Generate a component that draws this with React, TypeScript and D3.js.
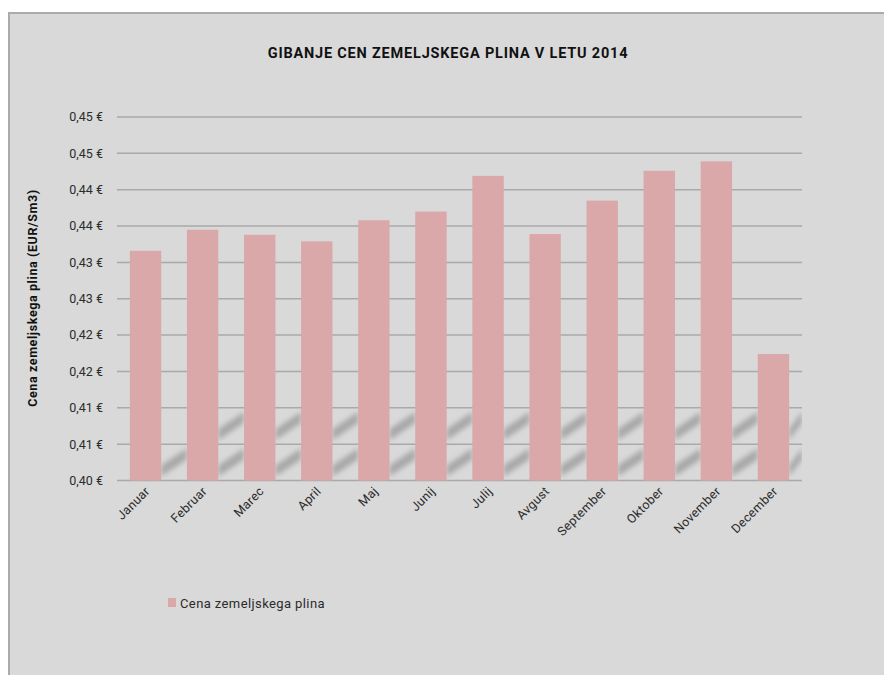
import React from "react";
import * as d3 from "d3";

const months = ["Januar", "Februar", "Marec", "April", "Maj", "Junij", "Julij", "Avgust", "September", "Oktober", "November", "December"];
const prices = [0.4316, 0.4345, 0.4338, 0.4329, 0.4358, 0.437, 0.4419, 0.4339, 0.4385, 0.4426, 0.4439, 0.4174];
const yTickValues = [0.4, 0.405, 0.41, 0.415, 0.42, 0.425, 0.43, 0.435, 0.44, 0.445, 0.45];
const yTickLabels = ["0,40 €", "0,41 €", "0,41 €", "0,42 €", "0,42 €", "0,43 €", "0,43 €", "0,44 €", "0,44 €", "0,45 €", "0,45 €"];
const title = "GIBANJE CEN ZEMELJSKEGA PLINA V LETU 2014";
const yTitle = "Cena zemeljskega plina (EUR/Sm3)";
const seriesName = "Cena zemeljskega plina";

const W = 884;
const H = 675;
const FONT = "Roboto, 'DejaVu Sans', sans-serif";
const BAR = "#dba8a9";
const GRID = "#a9a9a9";
const TXT = "#2b2b2b";

export default function App() {
  const x = d3.scaleBand<string>().domain(months).range([117, 802]).paddingInner(0.45).paddingOuter(0.225);
  const y = d3.scaleLinear().domain([0.4, 0.45]).range([480.5, 117]);
  const bw = x.bandwidth();

  // decorative shadow stripes in gaps between bars (floor area)
  const bands: [number, number][] = [
    [y(0.41), y(0.405)],
    [y(0.405), y(0.4)],
  ];
  const shadows: { key: string; pts: string }[] = [];
  months.forEach((m, i) => {
    const xl = (x(m) as number) + bw;
    const xr = i < months.length - 1 ? (x(months[i + 1]) as number) : 802;
    bands.forEach(([yt, yb], j) => {
      if (i === 0 && j === 0) return;
      const h = 11;
      const pts = [
        [xl, yb - 4],
        [xl, yb - 4 - h],
        [xr, yt + 4],
        [xr, yt + 4 + h],
      ]
        .map((p) => p.join(","))
        .join(" ");
      shadows.push({ key: `${i}-${j}`, pts });
    });
  });

  return (
    <svg width={W} height={H} style={{ position: "fixed", left: 0, top: 0, background: "#fff" }} fontFamily={FONT}>
      <defs>
        <filter id="blur" x="-20%" y="-20%" width="140%" height="140%">
          <feGaussianBlur stdDeviation="2.6" />
        </filter>
        <clipPath id="floor">
          <rect x={117} y={y(0.41)} width={685} height={y(0.4) - y(0.41)} />
        </clipPath>
      </defs>
      <rect x={8} y={12} width={W} height={H} fill="#d9d9d9" />
      <line x1={9} y1={12} x2={9} y2={H} stroke="#ababab" strokeWidth={2} />
      <line x1={8} y1={13} x2={W} y2={13} stroke="#ababab" strokeWidth={2} />

      <text x={448} y={58} textAnchor="middle" fontSize={14.5} fontWeight={700} letterSpacing={0.8} fill="#111">
        {title}
      </text>

      <g clipPath="url(#floor)">
        <g filter="url(#blur)">
          {shadows.map((s) => (
            <polygon key={s.key} points={s.pts} fill="#a8a8a8" />
          ))}
        </g>
      </g>

      {yTickValues.map((v, i) => (
        <g key={i}>
          <line x1={117} x2={802} y1={y(v)} y2={y(v)} stroke={GRID} strokeWidth={1.5} />
          <text x={103} y={y(v)} dy="0.35em" textAnchor="end" fontSize={12.5} fill={TXT}>
            {yTickLabels[i]}
          </text>
        </g>
      ))}

      {months.map((m, i) => (
        <rect key={m} x={x(m)} y={y(prices[i])} width={bw} height={y(0.4) - y(prices[i])} fill={BAR} />
      ))}

      {months.map((m) => {
        const cx = (x(m) as number) + bw / 2 + 5;
        const cy = 492;
        return (
          <text key={m} x={cx} y={cy} textAnchor="end" fontSize={12.5} letterSpacing={0.3} fill={TXT} transform={`rotate(-45 ${cx} ${cy})`}>
            {m}
          </text>
        );
      })}

      <text
        x={0}
        y={0}
        transform={`translate(37 ${298}) rotate(-90)`}
        textAnchor="middle"
        fontSize={12.5}
        fontWeight={700}
        letterSpacing={0.6}
        fill="#111"
      >
        {yTitle}
      </text>

      <rect x={168} y={598} width={8} height={9} fill={BAR} />
      <text x={180} y={603} dy="0.35em" fontSize={13} letterSpacing={0.4} fill={TXT}>
        {seriesName}
      </text>
    </svg>
  );
}
